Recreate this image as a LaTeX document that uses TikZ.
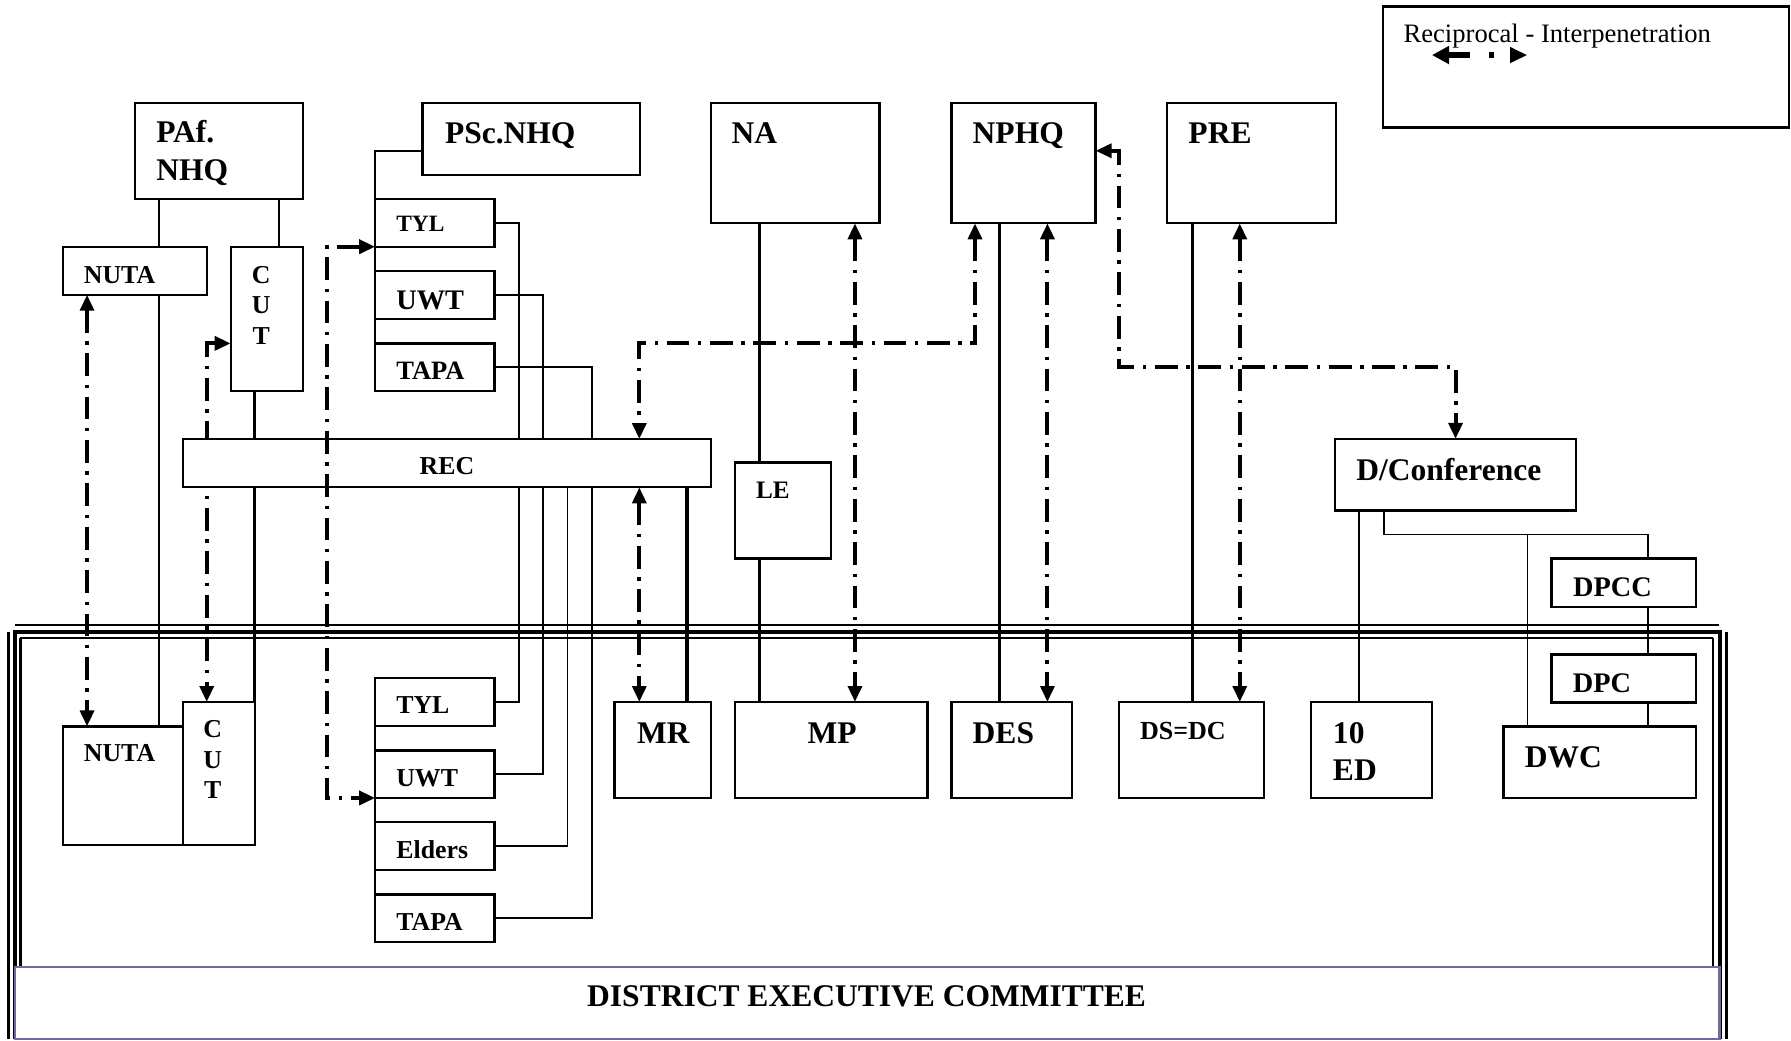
\documentclass[tikz,border=0pt]{standalone}
\usepackage{fontspec}
\setmainfont{Liberation Serif}
\usetikzlibrary{arrows.meta}

% box with corners (x1,y1) and (x2,y2), y measured downwards
\newcommand\mkbox[5]{\node[box, minimum width={(#4-#2)*1pt}, minimum height={(#5-#3)*1pt}] (#1) at ({(#2+#4)/2},{(#3+#5)/2}) {};}

\tikzset{
  box/.style={draw=black, line width=2pt, fill=white, inner sep=0pt, outer sep=0pt},
  lnthin/.style={line width=1.6pt},
  lnmid/.style={line width=2pt},
  lnthick/.style={line width=3pt},
  dd/.style={line width=3.5pt, dash pattern=on 20pt off 7.5pt on 3pt off 7.5pt},
  hd/.tip={Triangle[length=14pt,width=12pt]},
  tb/.style={font=\bfseries\fontsize{27.6}{30}\selectfont, anchor=base west, inner sep=0pt, outer sep=0pt},
  tm/.style={tb, font=\bfseries\fontsize{24.8}{27}\selectfont},
  ts/.style={tb, font=\bfseries\fontsize{22.6}{25}\selectfont},
  tl/.style={tb, font=\fontsize{23.3}{26}\selectfont},
}
\definecolor{decblue}{RGB}{108,108,160}

\begin{document}
\begin{tikzpicture}[x=1pt,y=-1pt]
\useasboundingbox (0,0) rectangle (1568,911);

% column and row guides for the connectors
\coordinate (xA) at (139.5,0);
\coordinate (xB) at (244,0);
\coordinate (xC) at (223,0);
\coordinate (xD) at (76.2,0);
\coordinate (xE) at (181,0);
\coordinate (xF) at (286.5,0);
\coordinate (x455) at (454.6,0);
\coordinate (x476) at (475.7,0);
\coordinate (x497) at (496.8,0);
\coordinate (x518) at (518,0);
\coordinate (xH) at (559.7,0);
\coordinate (xI) at (601.5,0);
\coordinate (xJ) at (665,0);
\coordinate (xK) at (748.5,0);
\coordinate (xL) at (853.6,0);
\coordinate (xM) at (875,0);
\coordinate (xN) at (917,0);
\coordinate (xO) at (979.7,0);
\coordinate (xP) at (1044,0);
\coordinate (xQ) at (1085.4,0);
\coordinate (xR) at (1274.3,0);
\coordinate (xS) at (1190,0);
\coordinate (xT) at (1211.4,0);
\coordinate (xU) at (1337.3,0);
\coordinate (xV) at (1442.6,0);
\coordinate (yA) at (0,300.6);
\coordinate (yB) at (0,321);
\coordinate (yC) at (0,132);
\coordinate (yE) at (0,468);

% district frame
\draw[line width=2pt] (13,547) -- (1505,547);
\draw[line width=3.4pt] (13,553) -- (1506,553);
\draw[line width=2pt] (17.5,558.6) -- (1500,558.6);
\draw[line width=2.2pt] (7.5,553) -- (7.5,909.6);
\draw[line width=3.4pt] (13.5,551.4) -- (13.5,909.6);
\draw[line width=2pt] (18,558.6) -- (18,846.6);
\draw[line width=2pt] (1499.4,558.6) -- (1499.4,846.6);
\draw[line width=3.4pt] (1505.5,551.4) -- (1505.5,909.6);
\draw[line width=2.2pt] (1511.4,553) -- (1511.4,909.6);
\mkbox{dec}{13}{846.6}{1505.4}{909.6}
\draw[decblue, line width=2pt] (dec.north west) rectangle (dec.south east);

% box positions (outlines are drawn later on top of the lines)
\begin{scope}[box/.append style={draw=none, fill=none}]
\mkbox{paf}{118}{90}{265}{174}
\mkbox{psc}{370}{90}{560}{153}
\mkbox{na}{622.2}{90}{770}{195.5}
\mkbox{nphq}{832.9}{90}{959.1}{195.5}
\mkbox{pre}{1021.7}{90}{1169.4}{195.5}
\mkbox{nutaT}{55}{216}{181}{258}
\mkbox{cutT}{202}{216}{265}{342}
\mkbox{tylT}{328.5}{174}{433}{216}
\mkbox{uwtT}{328.5}{237}{433}{279.5}
\mkbox{tapaT}{328.5}{300.6}{433}{342}
\mkbox{rec}{160.2}{384.4}{622.2}{426.6}
\mkbox{le}{643.5}{405}{727.5}{489}
\mkbox{dconf}{1168.7}{384.3}{1379.6}{447}
\mkbox{dpcc}{1358.2}{489}{1484.9}{531.5}
\mkbox{dpc}{1358.2}{573}{1484.9}{615}
\mkbox{dwc}{1316.2}{636}{1484.9}{698.6}
\mkbox{ted}{1148}{614.6}{1253.5}{698.6}
\mkbox{dsdc}{979.4}{614.6}{1106.9}{698.6}
\mkbox{des}{832.9}{614.6}{938.4}{698.6}
\mkbox{mp}{643.5}{614.6}{812}{698.6}
\mkbox{mr}{538}{614.6}{622.5}{698.6}
\mkbox{nutaB}{55}{636}{160}{740}
\mkbox{cutB}{160}{614.6}{223}{740}
\mkbox{tylB}{328.5}{593.6}{433}{635.8}
\mkbox{uwtB}{328.5}{657}{433}{698.6}
\mkbox{eldB}{328.5}{719.8}{433}{761.7}
\mkbox{tapaB}{328.5}{783}{433}{825}
\end{scope}

% PAf.NHQ branch
\draw[lnthin] (paf.south -| xA) -- (nutaT.north -| xA);
\draw[lnthin] (paf.south -| xB) -- (cutT.north -| xB);
\draw[lnmid] (nutaT.south -| xA) -- (nutaB.north -| xA);
\draw[lnthick] (cutT.south -| xC) -- (nutaB.north -| xC);
\draw[dd, hd-hd] (nutaT.south -| xD) -- (nutaB.north -| xD);
\draw[dd, hd-hd] (cutT.west |- yA) -- (yA -| xE) -- (cutB.north -| xE);

% PSc.NHQ branch
\draw[lnmid] (psc.west |- yC) -| (tapaT.south west);
\draw[lnthin] (tylT.east) -| (rec.north -| x455);
\draw[lnthin] (uwtT.east) -| (rec.north -| x476);
\draw[lnthin] (tapaT.east) -| (rec.north -| x518);
\draw[lnthin] (rec.south -| x455) |- (tylB.east);
\draw[lnthin] (rec.south -| x476) |- (uwtB.east);
\draw[lnthin] (rec.south -| x497) |- (eldB.east);
\draw[lnthin] (rec.south -| x518) |- (tapaB.east);
\draw[lnmid] (tylB.north west) -- (tapaB.south west);

% REC links
\draw[dd, hd-hd] (nphq.south -| xL) |- (yA -| xH) -- (rec.north -| xH);
\draw[dd, hd-hd] (rec.south -| xH) -- (mr.north -| xH);
\draw[lnthick] (rec.south -| xI) -- (mr.north -| xI);

% NA branch
\draw[lnthick] (na.south -| xJ) -- (le.north -| xJ);
\draw[lnthick] (le.south -| xJ) -- (mp.north -| xJ);
\draw[dd, hd-hd] (na.south -| xK) -- (mp.north -| xK);

% NPHQ branch
\draw[lnthick] (nphq.south -| xM) -- (des.north -| xM);
\draw[dd, hd-hd] (nphq.south -| xN) -- (des.north -| xN);
\draw[dd, hd-hd] (nphq.east |- yC) -| (yB -| xO) -| (dconf.north -| xR);

% PRE branch
\draw[lnthick] (pre.south -| xP) -- (dsdc.north -| xP);
\draw[dd, hd-hd] (pre.south -| xQ) -- (dsdc.north -| xQ);

% D/Conference branch
\draw[lnthin] (dconf.south -| xS) -- (ted.north -| xS);
\draw[lnthin] (dconf.south -| xT) |- (yE -| xV) -- (dpcc.north -| xV);
\draw[lnthin] (yE -| xU) -- (dwc.north -| xU);
\draw[lnthin] (dpcc.south -| xV) -- (dpc.north -| xV);
\draw[lnthin] (dpc.south -| xV) -- (dwc.north -| xV);

% box outlines
\foreach \b in {paf,psc,na,nphq,pre,nutaT,cutT,tylT,uwtT,tapaT,rec,le,dconf,dpcc,dpc,dwc,ted,dsdc,des,mp,mr,nutaB,cutB,tylB,uwtB,eldB,tapaB}
  \draw[line width=2pt, fill=white] (\b.north west) rectangle (\b.south east);

% youth-league link crossing REC
\draw[dd, hd-hd] (tylT.south west) -- (tylT.south west -| xF) -- (uwtB.south west -| xF) -- (uwtB.south west);

% legend
\mkbox{legend}{1210.6}{5.8}{1566}{111.5}
\draw[line width=1.8pt] (legend.north west) rectangle (legend.south east);
\node[tl] (legtext) at (1228.8,37.4) {Reciprocal - Interpenetration};
\coordinate (lga) at (1253.6,48.2);
\coordinate (lgb) at (1337.1,48.2);
\draw[line width=6pt, dash pattern=on 19.5pt off 16pt on 5.2pt off 20pt,
      {Triangle[length=15pt,width=15pt]}-{Triangle[length=15pt,width=13pt]}] (lga) -- (lgb);

% labels
\node[tb] (tpaf1) at (136.8,125) {PAf.};
\node[tb] (tpaf2) at (136.8,157.6) {NHQ};
\node[tb] (tpsc) at (389.6,125.5) {PSc.NHQ};
\node[tb] (tna) at (640.6,125.5) {NA};
\node[tb] (tnphq) at (851.6,125.5) {NPHQ};
\node[tb] (tpre) at (1040.5,125.5) {PRE};
\node[ts] (tnutaT) at (73.5,248) {NUTA};
\node[ts, anchor=base] (tcut1) at (228.6,248) {C};
\node[ts, anchor=base] (tcut2) at (228.6,274.3) {U};
\node[ts, anchor=base] (tcut3) at (228.6,301.2) {T};
\node[ts, font=\bfseries\fontsize{20.5}{23}\selectfont] (ttylT) at (347,203) {TYL};
\node[tm] (tuwtT) at (347,270.8) {UWT};
\node[ts, font=\bfseries\fontsize{23.2}{25}\selectfont] (ttapaT) at (347,332) {TAPA};
\node[ts] (trec) at (367.4,415.3) {REC};
\node[ts, font=\bfseries\fontsize{22}{24}\selectfont] (tle) at (662,436.5) {LE};
\node[tb] (tdconf) at (1187.5,420.3) {D/Conference};
\node[tm] (tdpcc) at (1377.2,522.5) {DPCC};
\node[tm] (tdpc) at (1377,606.6) {DPC};
\node[tb] (tmr) at (557.7,651) {MR};
\node[tb] (tmp) at (707,651) {MP};
\node[tb] (tdes) at (851.6,651) {DES};
\node[ts, font=\bfseries\fontsize{22.8}{25}\selectfont] (tdsdc) at (998.1,647) {DS=DC};
\node[tb] (tted1) at (1167,651) {10};
\node[tb] (tted2) at (1167,683.5) {ED};
\node[tb] (tdwc) at (1335,672) {DWC};
\node[ts] (tnutaB) at (73.5,667) {NUTA};
\node[ts, anchor=base] (tcutb1) at (186.2,646) {C};
\node[ts, anchor=base] (tcutb2) at (186.2,673) {U};
\node[ts, anchor=base] (tcutb3) at (186.2,699.4) {T};
\node[ts] (ttylB) at (347,625) {TYL};
\node[ts] (tuwtB) at (347,688.5) {UWT};
\node[ts] (teldB) at (347,751.7) {Elders};
\node[ts] (ttapaB) at (347,814.2) {TAPA};
\node[tb, anchor=base] (tdec) at (758.7,881.5) {DISTRICT EXECUTIVE COMMITTEE};
\end{tikzpicture}
\end{document}
